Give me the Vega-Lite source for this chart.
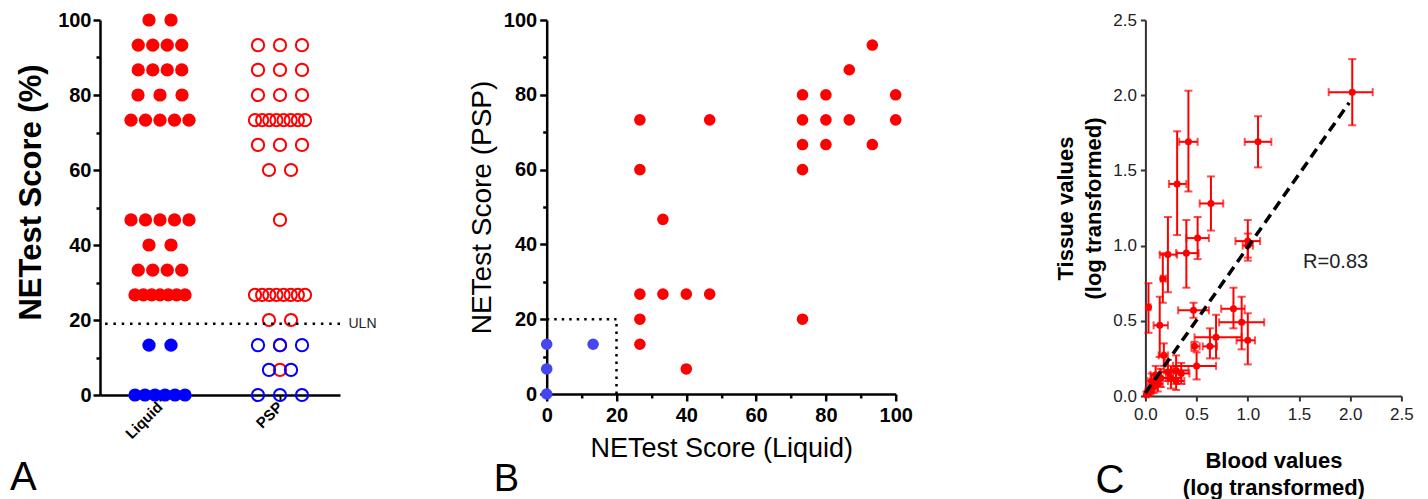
{
  "$schema": "https://vega.github.io/schema/vega-lite/v6.json",
  "padding": {"left": 10, "top": 10, "right": 0, "bottom": 0},
  "background": "white",
  "bounds": "flush",
  "spacing": 206.7,
  "resolve": {"scale": {"color": "independent"}},
  "config": {
    "font": "Liberation Sans",
    "view": {"stroke": null},
    "axis": {"grid": false, "labelFlush": false, "labelFont": "Liberation Sans", "titleFont": "Liberation Sans"},
    "title": {"font": "Liberation Sans"}
  },
  "hconcat": [
    {
      "width": 240,
      "height": 375,
      "title": {"text": "A", "orient": "bottom", "anchor": "start", "frame": "group", "dx": -90, "offset": 49, "baseline": "alphabetic", "fontSize": 40, "fontWeight": "normal", "color": "black"},
      "data": {"values": [
        {"a": "Liquid", "s": 100, "st": "pos"}, {"a": "Liquid", "s": 100, "st": "pos"},
        {"a": "Liquid", "s": 93.3, "st": "pos"}, {"a": "Liquid", "s": 93.3, "st": "pos"}, {"a": "Liquid", "s": 93.3, "st": "pos"}, {"a": "Liquid", "s": 93.3, "st": "pos"},
        {"a": "Liquid", "s": 86.7, "st": "pos"}, {"a": "Liquid", "s": 86.7, "st": "pos"}, {"a": "Liquid", "s": 86.7, "st": "pos"}, {"a": "Liquid", "s": 86.7, "st": "pos"},
        {"a": "Liquid", "s": 80, "st": "pos"}, {"a": "Liquid", "s": 80, "st": "pos"}, {"a": "Liquid", "s": 80, "st": "pos"},
        {"a": "Liquid", "s": 73.3, "st": "pos"}, {"a": "Liquid", "s": 73.3, "st": "pos"}, {"a": "Liquid", "s": 73.3, "st": "pos"}, {"a": "Liquid", "s": 73.3, "st": "pos"}, {"a": "Liquid", "s": 73.3, "st": "pos"},
        {"a": "Liquid", "s": 46.7, "st": "pos"}, {"a": "Liquid", "s": 46.7, "st": "pos"}, {"a": "Liquid", "s": 46.7, "st": "pos"}, {"a": "Liquid", "s": 46.7, "st": "pos"}, {"a": "Liquid", "s": 46.7, "st": "pos"},
        {"a": "Liquid", "s": 40, "st": "pos"}, {"a": "Liquid", "s": 40, "st": "pos"},
        {"a": "Liquid", "s": 33.3, "st": "pos"}, {"a": "Liquid", "s": 33.3, "st": "pos"}, {"a": "Liquid", "s": 33.3, "st": "pos"}, {"a": "Liquid", "s": 33.3, "st": "pos"},
        {"a": "Liquid", "s": 26.7, "st": "pos"}, {"a": "Liquid", "s": 26.7, "st": "pos"}, {"a": "Liquid", "s": 26.7, "st": "pos"}, {"a": "Liquid", "s": 26.7, "st": "pos"}, {"a": "Liquid", "s": 26.7, "st": "pos"}, {"a": "Liquid", "s": 26.7, "st": "pos"}, {"a": "Liquid", "s": 26.7, "st": "pos"},
        {"a": "Liquid", "s": 13.3, "st": "neg"}, {"a": "Liquid", "s": 13.3, "st": "neg"},
        {"a": "Liquid", "s": 0, "st": "neg"}, {"a": "Liquid", "s": 0, "st": "neg"}, {"a": "Liquid", "s": 0, "st": "neg"}, {"a": "Liquid", "s": 0, "st": "neg"}, {"a": "Liquid", "s": 0, "st": "neg"}, {"a": "Liquid", "s": 0, "st": "neg"},
        {"a": "PSP", "s": 93.3, "st": "pos"}, {"a": "PSP", "s": 93.3, "st": "pos"}, {"a": "PSP", "s": 93.3, "st": "pos"},
        {"a": "PSP", "s": 86.7, "st": "pos"}, {"a": "PSP", "s": 86.7, "st": "pos"}, {"a": "PSP", "s": 86.7, "st": "pos"},
        {"a": "PSP", "s": 80, "st": "pos"}, {"a": "PSP", "s": 80, "st": "pos"}, {"a": "PSP", "s": 80, "st": "pos"},
        {"a": "PSP", "s": 73.3, "st": "pos"}, {"a": "PSP", "s": 73.3, "st": "pos"}, {"a": "PSP", "s": 73.3, "st": "pos"}, {"a": "PSP", "s": 73.3, "st": "pos"}, {"a": "PSP", "s": 73.3, "st": "pos"}, {"a": "PSP", "s": 73.3, "st": "pos"}, {"a": "PSP", "s": 73.3, "st": "pos"}, {"a": "PSP", "s": 73.3, "st": "pos"},
        {"a": "PSP", "s": 66.7, "st": "pos"}, {"a": "PSP", "s": 66.7, "st": "pos"}, {"a": "PSP", "s": 66.7, "st": "pos"},
        {"a": "PSP", "s": 60, "st": "pos"}, {"a": "PSP", "s": 60, "st": "pos"},
        {"a": "PSP", "s": 46.7, "st": "pos"},
        {"a": "PSP", "s": 26.7, "st": "pos"}, {"a": "PSP", "s": 26.7, "st": "pos"}, {"a": "PSP", "s": 26.7, "st": "pos"}, {"a": "PSP", "s": 26.7, "st": "pos"}, {"a": "PSP", "s": 26.7, "st": "pos"}, {"a": "PSP", "s": 26.7, "st": "pos"}, {"a": "PSP", "s": 26.7, "st": "pos"}, {"a": "PSP", "s": 26.7, "st": "pos"},
        {"a": "PSP", "s": 20, "st": "pos"}, {"a": "PSP", "s": 20, "st": "pos"},
        {"a": "PSP", "s": 13.3, "st": "pos"},
        {"a": "PSP", "s": 6.7, "st": "pos"},
        {"a": "PSP", "s": 13.3, "st": "neg"}, {"a": "PSP", "s": 13.3, "st": "neg"}, {"a": "PSP", "s": 13.3, "st": "neg"},
        {"a": "PSP", "s": 6.7, "st": "neg"}, {"a": "PSP", "s": 6.7, "st": "neg"},
        {"a": "PSP", "s": 0, "st": "neg"}, {"a": "PSP", "s": 0, "st": "neg"}, {"a": "PSP", "s": 0, "st": "neg"}
      ]},
      "transform": [
        {"window": [{"op": "row_number", "as": "r"}], "groupby": ["a", "s", "st"]},
        {"joinaggregate": [{"op": "count", "as": "n"}], "groupby": ["a", "s", "st"]},
        {"calculate": "datum.n <= 1 ? 0 : (datum.r - (datum.n + 1) / 2) * (datum.n <= 3 ? 22 : datum.n <= 5 ? 14.5 : 50 / (datum.n - 1))", "as": "off"}
      ],
      "layer": [
        {
          "transform": [{"filter": "datum.a === 'Liquid'"}],
          "mark": {"type": "point", "filled": true, "size": 175, "opacity": 1},
          "encoding": {
            "x": {"field": "a", "type": "nominal", "scale": {"domain": ["Liquid", "PSP"], "paddingInner": 0, "paddingOuter": 0},
              "axis": {"title": null, "labelAngle": -45, "labelAlign": "right", "labelBaseline": "middle", "labelFontSize": 15, "labelFontWeight": "bold", "labelColor": "black", "labelPadding": 3, "tickSize": 6, "tickWidth": 2, "tickColor": "black", "domainWidth": 2.5, "domainColor": "black"}},
            "xOffset": {"field": "off", "type": "quantitative", "scale": {"domain": [-60, 60], "nice": false}},
            "y": {"field": "s", "type": "quantitative", "scale": {"domain": [0, 100], "nice": false},
              "axis": {"title": "NETest Score (%)", "values": [0, 10, 20, 30, 40, 50, 60, 70, 80, 90, 100], "labelExpr": "datum.value % 20 === 0 ? datum.label : ''",
                "tickSize": {"condition": {"test": "datum.value % 20 === 0", "value": 7}, "value": 4},
                "labelFontSize": 20, "labelFontWeight": "bold", "labelColor": "black", "labelPadding": 2,
                "titleFontSize": 31, "titleFontWeight": "bold", "titleColor": "black", "titlePadding": 10, "titleY": 172,
                "domainColor": "black", "domainWidth": 2.5, "tickColor": "black", "tickWidth": 2.5}},
            "color": {"field": "st", "type": "nominal", "scale": {"domain": ["pos", "neg"], "range": ["#ff0000", "#0000ff"]}, "legend": null}
          }
        },
        {
          "transform": [{"filter": "datum.a === 'PSP'"}],
          "mark": {"type": "point", "filled": false, "size": 150, "strokeWidth": 2, "opacity": 1},
          "encoding": {
            "x": {"field": "a", "type": "nominal"},
            "xOffset": {"field": "off", "type": "quantitative"},
            "y": {"field": "s", "type": "quantitative", "axis": null},
            "color": {"field": "st", "type": "nominal", "legend": null}
          }
        },
        {
          "data": {"values": [{"uln": 19}]},
          "mark": {"type": "rule", "strokeDash": [2.5, 5.8], "strokeWidth": 2.5, "color": "black"},
          "encoding": {
            "y": {"field": "uln", "type": "quantitative",
              "axis": {"orient": "right", "values": [19], "labelExpr": "'ULN'", "domain": false, "ticks": false, "title": null, "labelPadding": 8, "labelFontSize": 14, "labelFontWeight": "normal", "labelColor": "#222"}}
          }
        }
      ],
      "resolve": {"axis": {"y": "independent"}}
    },
    {
      "width": 392,
      "height": 374,
      "title": {"text": "B", "orient": "bottom", "anchor": "start", "frame": "group", "dx": -53, "offset": 30, "baseline": "alphabetic", "fontSize": 38, "fontWeight": "normal", "color": "black"},
      "encoding": {
        "x": {"field": "liquid", "type": "quantitative", "scale": {"domain": [0, 100], "nice": false, "range": [0, 349]},
          "axis": {"title": "NETest Score (Liquid)", "values": [0, 10, 20, 30, 40, 50, 60, 70, 80, 90, 100], "labelExpr": "datum.value % 20 === 0 ? datum.label : ''",
            "tickSize": {"condition": {"test": "datum.value % 20 === 0", "value": 7}, "value": 4},
            "labelFontSize": 20, "labelFontWeight": "bold", "labelColor": "black", "labelPadding": 4,
            "titleFontSize": 27, "titleFontWeight": "normal", "titleColor": "black", "titlePadding": 10,
            "domainColor": "black", "domainWidth": 2.5, "tickColor": "black", "tickWidth": 2.5}},
        "y": {"field": "psp", "type": "quantitative", "scale": {"domain": [0, 100], "nice": false},
          "axis": {"title": "NETest Score (PSP)", "values": [0, 10, 20, 30, 40, 50, 60, 70, 80, 90, 100], "labelExpr": "datum.value % 20 === 0 ? datum.label : ''",
            "tickSize": {"condition": {"test": "datum.value % 20 === 0", "value": 7}, "value": 4},
            "labelFontSize": 20, "labelFontWeight": "bold", "labelColor": "black", "labelPadding": 3,
            "titleFontSize": 28, "titleFontWeight": "normal", "titleColor": "black", "titlePadding": 7,
            "domainColor": "black", "domainWidth": 2.5, "tickColor": "black", "tickWidth": 2.5}}
      },
      "layer": [
        {
          "data": {"values": [{"liquid": 0, "liquid2": 20, "psp": 20, "psp2": 20}, {"liquid": 20, "liquid2": 20, "psp": 0, "psp2": 20}]},
          "mark": {"type": "rule", "strokeDash": [2.5, 5], "strokeWidth": 2.5, "color": "black"},
          "encoding": {"x2": {"field": "liquid2"}, "y2": {"field": "psp2"}}
        },
        {
          "data": {"values": [
            {"liquid": 93.3, "psp": 93.3, "st": "pos"}, {"liquid": 86.7, "psp": 86.7, "st": "pos"},
            {"liquid": 73.3, "psp": 80, "st": "pos"}, {"liquid": 80, "psp": 80, "st": "pos"}, {"liquid": 100, "psp": 80, "st": "pos"},
            {"liquid": 73.3, "psp": 73.3, "st": "pos"}, {"liquid": 80, "psp": 73.3, "st": "pos"}, {"liquid": 86.7, "psp": 73.3, "st": "pos"}, {"liquid": 100, "psp": 73.3, "st": "pos"},
            {"liquid": 73.3, "psp": 66.7, "st": "pos"}, {"liquid": 80, "psp": 66.7, "st": "pos"}, {"liquid": 93.3, "psp": 66.7, "st": "pos"},
            {"liquid": 73.3, "psp": 60, "st": "pos"},
            {"liquid": 26.7, "psp": 73.3, "st": "pos"}, {"liquid": 46.7, "psp": 73.3, "st": "pos"},
            {"liquid": 26.7, "psp": 60, "st": "pos"}, {"liquid": 33.3, "psp": 46.7, "st": "pos"},
            {"liquid": 26.7, "psp": 26.7, "st": "pos"}, {"liquid": 33.3, "psp": 26.7, "st": "pos"}, {"liquid": 40, "psp": 26.7, "st": "pos"}, {"liquid": 46.7, "psp": 26.7, "st": "pos"},
            {"liquid": 26.7, "psp": 20, "st": "pos"}, {"liquid": 73.3, "psp": 20, "st": "pos"},
            {"liquid": 26.7, "psp": 13.3, "st": "pos"}, {"liquid": 40, "psp": 6.7, "st": "pos"},
            {"liquid": 0, "psp": 13.3, "st": "neg"}, {"liquid": 13.3, "psp": 13.3, "st": "neg"}, {"liquid": 0, "psp": 6.7, "st": "neg"}, {"liquid": 0, "psp": 0, "st": "neg"}
          ]},
          "mark": {"type": "circle", "size": 135, "opacity": 1},
          "encoding": {
            "color": {"field": "st", "type": "nominal", "scale": {"domain": ["pos", "neg"], "range": ["#ff0000", "#4646f0"]}, "legend": null}
          }
        }
      ]
    },
    {
      "width": 256,
      "height": 376,
      "title": {"text": "C", "orient": "bottom", "anchor": "start", "frame": "group", "dx": -50, "offset": -5, "baseline": "alphabetic", "fontSize": 40, "fontWeight": "normal", "color": "black"},
      "data": {"values": [
        {"b": 2.02, "bLo": 1.79, "bHi": 2.22, "t": 2.02, "tLo": 1.80, "tHi": 2.24},
        {"b": 1.10, "bLo": 0.97, "bHi": 1.23, "t": 1.69, "tLo": 1.52, "tHi": 1.86},
        {"b": 0.42, "bLo": 0.33, "bHi": 0.51, "t": 1.69, "tLo": 1.36, "tHi": 2.03},
        {"b": 0.31, "bLo": 0.23, "bHi": 0.40, "t": 1.41, "tLo": 1.07, "tHi": 1.76},
        {"b": 0.64, "bLo": 0.53, "bHi": 0.76, "t": 1.28, "tLo": 1.10, "tHi": 1.46},
        {"b": 0.51, "bLo": 0.40, "bHi": 0.62, "t": 1.05, "tLo": 0.91, "tHi": 1.19},
        {"b": 0.40, "bLo": 0.30, "bHi": 0.52, "t": 0.95, "tLo": 0.72, "tHi": 1.17},
        {"b": 1.00, "bLo": 0.88, "bHi": 1.12, "t": 1.03, "tLo": 0.90, "tHi": 1.17},
        {"b": 1.00, "bLo": 0.95, "bHi": 1.05, "t": 1.00, "tLo": 0.92, "tHi": 1.08},
        {"b": 0.22, "bLo": 0.14, "bHi": 0.31, "t": 0.94, "tLo": 0.69, "tHi": 1.19},
        {"b": 0.17, "bLo": 0.15, "bHi": 0.20, "t": 0.78, "tLo": 0.62, "tHi": 0.95},
        {"b": 0.03, "bLo": 0.01, "bHi": 0.05, "t": 0.59, "tLo": 0.42, "tHi": 0.75},
        {"b": 0.14, "bLo": 0.08, "bHi": 0.22, "t": 0.47, "tLo": 0.26, "tHi": 0.66},
        {"b": 0.47, "bLo": 0.32, "bHi": 0.62, "t": 0.57, "tLo": 0.52, "tHi": 0.62},
        {"b": 0.86, "bLo": 0.74, "bHi": 0.97, "t": 0.58, "tLo": 0.45, "tHi": 0.72},
        {"b": 0.94, "bLo": 0.72, "bHi": 1.16, "t": 0.49, "tLo": 0.31, "tHi": 0.66},
        {"b": 1.00, "bLo": 0.89, "bHi": 1.07, "t": 0.37, "tLo": 0.21, "tHi": 0.55},
        {"b": 0.69, "bLo": 0.48, "bHi": 0.94, "t": 0.39, "tLo": 0.25, "tHi": 0.54},
        {"b": 0.63, "bLo": 0.56, "bHi": 0.70, "t": 0.33, "tLo": 0.25, "tHi": 0.45},
        {"b": 0.48, "bLo": 0.45, "bHi": 0.53, "t": 0.33, "tLo": 0.30, "tHi": 0.36},
        {"b": 0.50, "bLo": 0.27, "bHi": 0.69, "t": 0.20, "tLo": 0.11, "tHi": 0.29},
        {"b": 0.18, "bLo": 0.13, "bHi": 0.22, "t": 0.27, "tLo": 0.20, "tHi": 0.35},
        {"b": 0.30, "bLo": 0.18, "bHi": 0.42, "t": 0.17, "tLo": 0.08, "tHi": 0.27},
        {"b": 0.35, "bLo": 0.27, "bHi": 0.43, "t": 0.15, "tLo": 0.08, "tHi": 0.22},
        {"b": 0.25, "bLo": 0.15, "bHi": 0.35, "t": 0.12, "tLo": 0.05, "tHi": 0.20},
        {"b": 0.22, "bLo": 0.14, "bHi": 0.30, "t": 0.16, "tLo": 0.10, "tHi": 0.24},
        {"b": 0.30, "bLo": 0.22, "bHi": 0.38, "t": 0.10, "tLo": 0.04, "tHi": 0.17},
        {"b": 0.15, "bLo": 0.10, "bHi": 0.20, "t": 0.12, "tLo": 0.06, "tHi": 0.18},
        {"b": 0.12, "bLo": 0.07, "bHi": 0.17, "t": 0.08, "tLo": 0.03, "tHi": 0.14},
        {"b": 0.08, "bLo": 0.04, "bHi": 0.12, "t": 0.06, "tLo": 0.02, "tHi": 0.10},
        {"b": 0.05, "bLo": 0.02, "bHi": 0.08, "t": 0.04, "tLo": 0.01, "tHi": 0.07},
        {"b": 0.03, "bLo": 0.00, "bHi": 0.06, "t": 0.02, "tLo": 0.00, "tHi": 0.05},
        {"b": 0.01, "bLo": 0.00, "bHi": 0.03, "t": 0.01, "tLo": 0.00, "tHi": 0.03},
        {"b": 0.10, "bLo": 0.05, "bHi": 0.15, "t": 0.14, "tLo": 0.08, "tHi": 0.20},
        {"b": 0.06, "bLo": 0.02, "bHi": 0.10, "t": 0.10, "tLo": 0.05, "tHi": 0.15}
      ]},
      "layer": [
        {
          "mark": {"type": "errorbar", "ticks": true, "size": 8, "thickness": 2, "color": "#ff0000"},
          "encoding": {
            "x": {"field": "b", "type": "quantitative", "title": ["Blood values", "(log transformed)"], "scale": {"domain": [0, 2.5], "nice": false},
              "axis": {"values": [0, 0.25, 0.5, 0.75, 1, 1.25, 1.5, 1.75, 2, 2.25, 2.5], "format": ".1f",
                "labelExpr": "round(datum.value * 4) % 2 === 0 ? datum.label : ''",
                "tickSize": {"condition": {"test": "round(datum.value * 4) % 2 === 0", "value": 5}, "value": 4},
                "labelFontSize": 17, "labelFontWeight": "normal", "labelColor": "#222", "labelPadding": 5,
                "titleFontSize": 22, "titleFontWeight": "bold", "titleColor": "black", "titlePadding": 28, "titleLineHeight": 27,
                "domainColor": "#333", "domainWidth": 2, "tickColor": "#333", "tickWidth": 2}},
            "y": {"field": "tLo", "type": "quantitative", "title": ["Tissue values", "(log transformed)"], "scale": {"domain": [0, 2.5], "nice": false},
              "axis": {"values": [0, 0.25, 0.5, 0.75, 1, 1.25, 1.5, 1.75, 2, 2.25, 2.5], "format": ".1f",
                "labelExpr": "round(datum.value * 4) % 2 === 0 ? datum.label : ''",
                "tickSize": {"condition": {"test": "round(datum.value * 4) % 2 === 0", "value": 5}, "value": 4},
                "labelFontSize": 17, "labelFontWeight": "normal", "labelColor": "#222", "labelPadding": 4,
                "titleFontSize": 22, "titleFontWeight": "bold", "titleColor": "black", "titlePadding": 7, "titleLineHeight": 28,
                "domainColor": "#333", "domainWidth": 2, "tickColor": "#333", "tickWidth": 2}},
            "y2": {"field": "tHi"}
          }
        },
        {
          "mark": {"type": "errorbar", "ticks": true, "size": 8, "thickness": 2, "color": "#ff0000"},
          "encoding": {
            "y": {"field": "t", "type": "quantitative", "title": ["Tissue values", "(log transformed)"]},
            "x": {"field": "bLo", "type": "quantitative", "title": ["Blood values", "(log transformed)"]},
            "x2": {"field": "bHi"}
          }
        },
        {
          "mark": {"type": "circle", "size": 50, "opacity": 1, "color": "#ff0000"},
          "encoding": {
            "x": {"field": "b", "type": "quantitative", "title": ["Blood values", "(log transformed)"]},
            "y": {"field": "t", "type": "quantitative", "title": ["Tissue values", "(log transformed)"]}
          }
        },
        {
          "data": {"values": [{"b": 0, "t": 0.02, "b2": 1.99, "t2": 1.95}]},
          "mark": {"type": "rule", "strokeDash": [10, 6], "strokeWidth": 3.5, "color": "black"},
          "encoding": {
            "x": {"field": "b", "type": "quantitative", "title": ["Blood values", "(log transformed)"]},
            "y": {"field": "t", "type": "quantitative", "title": ["Tissue values", "(log transformed)"]},
            "x2": {"field": "b2"},
            "y2": {"field": "t2"}
          }
        },
        {
          "data": {"values": [{"b": 1.54, "t": 0.89, "label": "R=0.83"}]},
          "mark": {"type": "text", "align": "left", "baseline": "middle", "fontSize": 20, "color": "#222"},
          "encoding": {
            "x": {"field": "b", "type": "quantitative", "title": ["Blood values", "(log transformed)"]},
            "y": {"field": "t", "type": "quantitative", "title": ["Tissue values", "(log transformed)"]},
            "text": {"field": "label"}
          }
        }
      ]
    }
  ]
}
